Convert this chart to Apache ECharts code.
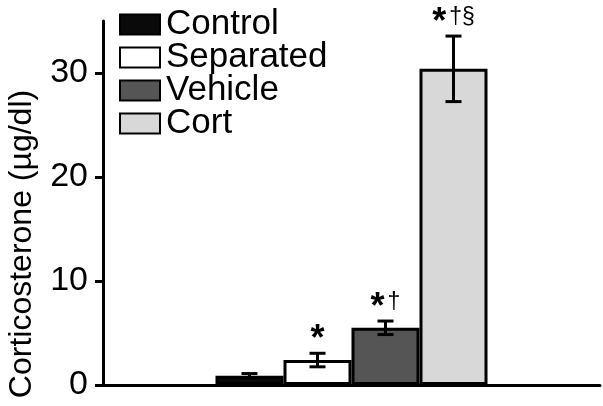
<!DOCTYPE html>
<html>
<head>
<meta charset="utf-8">
<script src="https://cdn.jsdelivr.net/npm/echarts@6/dist/echarts.min.js"></script>
<style>
  html, body { margin: 0; padding: 0; background: #fff; }
  #chart { width: 603px; height: 406px; }
</style>
</head>
<body>
<div id="chart"></div>
<script>
const groups = ['Control', 'Separated', 'Vehicle', 'Cort'];
const means = [0.9, 2.4, 5.5, 30.4];
const errors = [0.2, 0.65, 0.65, 3.15];
const marks = ['', '*', '*\u2020', '*\u2020\u00a7'];
const colors = ['#0a0a0a', '#ffffff', '#555555', '#d8d8d8'];
const yTicks = [0, 10, 20, 30];

const barWidth = 68;
const font = 'Liberation Sans, Arial, sans-serif';

const chart = echarts.init(document.getElementById('chart'));

const barSeries = groups.map((name, i) => ({
  name: name,
  type: 'bar',
  data: [means[i]],
  barWidth: barWidth,
  barGap: '0%',
  itemStyle: { color: colors[i], borderColor: '#000', borderWidth: 3 },
  emphasis: { disabled: true },
  z: 2
}));

// whiskers + significance marks drawn from the same scale
const errData = groups.map((g, i) => [0, means[i] - errors[i], means[i] + errors[i], i]);

const errSeries = {
  type: 'custom',
  name: 'err',
  data: errData,
  z: 5,
  renderItem: function (params, api) {
    const idx = api.value(3);
    const base = api.coord([0, 0]);
    const lo = api.coord([0, api.value(1)]);
    const hi = api.coord([0, api.value(2)]);
    const x = base[0] + (idx - 1.5) * barWidth;
    const cap = 8;
    const style = { stroke: '#000', lineWidth: 3 };
    const children = [
      { type: 'line', shape: { x1: x, y1: lo[1], x2: x, y2: hi[1] }, style: style },
      { type: 'line', shape: { x1: x - cap, y1: lo[1], x2: x + cap, y2: lo[1] }, style: style },
      { type: 'line', shape: { x1: x - cap, y1: hi[1], x2: x + cap, y2: hi[1] }, style: style }
    ];
    const m = marks[idx];
    if (m) {
      children.push({
        type: 'text',
        x: x,
        y: hi[1] + 5,
        style: {
          text: '{s|*}' + (m.length > 1 ? '{d|' + m.slice(1) + '}' : ''),
          align: 'center',
          verticalAlign: 'bottom',
          rich: {
            s: { fontFamily: font, fontSize: 36, fontWeight: 'bold', fill: '#000' },
            d: { fontFamily: font, fontSize: 23, fill: '#000', padding: [0, 0, 10, 3] }
          }
        }
      });
    }
    return { type: 'group', children: children };
  }
};

chart.setOption({
  animation: false,
  grid: { left: 103, right: 3, top: 21, bottom: 21, outerBoundsMode: 'none' },
  legend: {
    data: groups,
    orient: 'vertical',
    left: 119,
    top: 7,
    padding: 0,
    itemWidth: 40,
    itemHeight: 20,
    itemGap: -2,
    icon: 'rect',
    selectedMode: false,
    textStyle: { fontFamily: font, fontSize: 35, color: '#000', padding: [0, 0, 0, 1] }
  },
  xAxis: {
    type: 'category',
    data: [''],
    axisLine: { lineStyle: { color: '#000', width: 3 } },
    axisTick: { show: false },
    axisLabel: { show: false }
  },
  yAxis: {
    type: 'value',
    min: 0,
    max: 35,
    interval: 5,
    name: 'Corticosterone (\u00b5g/dl)',
    nameLocation: 'middle',
    nameGap: 65,
    nameMoveOverlap: false,
    nameTextStyle: { fontFamily: font, fontSize: 32, color: '#000', padding: [0, 82, 0, 0] },
    axisLine: { show: true, lineStyle: { color: '#000', width: 3 } },
    axisTick: { show: true, length: 8, lineStyle: { color: '#000', width: 3 }, customValues: yTicks },
    axisLabel: { fontFamily: font, fontSize: 34, color: '#000', margin: 15, customValues: yTicks },
    splitLine: { show: false }
  },
  series: barSeries.concat([errSeries])
});
</script>
</body>
</html>
